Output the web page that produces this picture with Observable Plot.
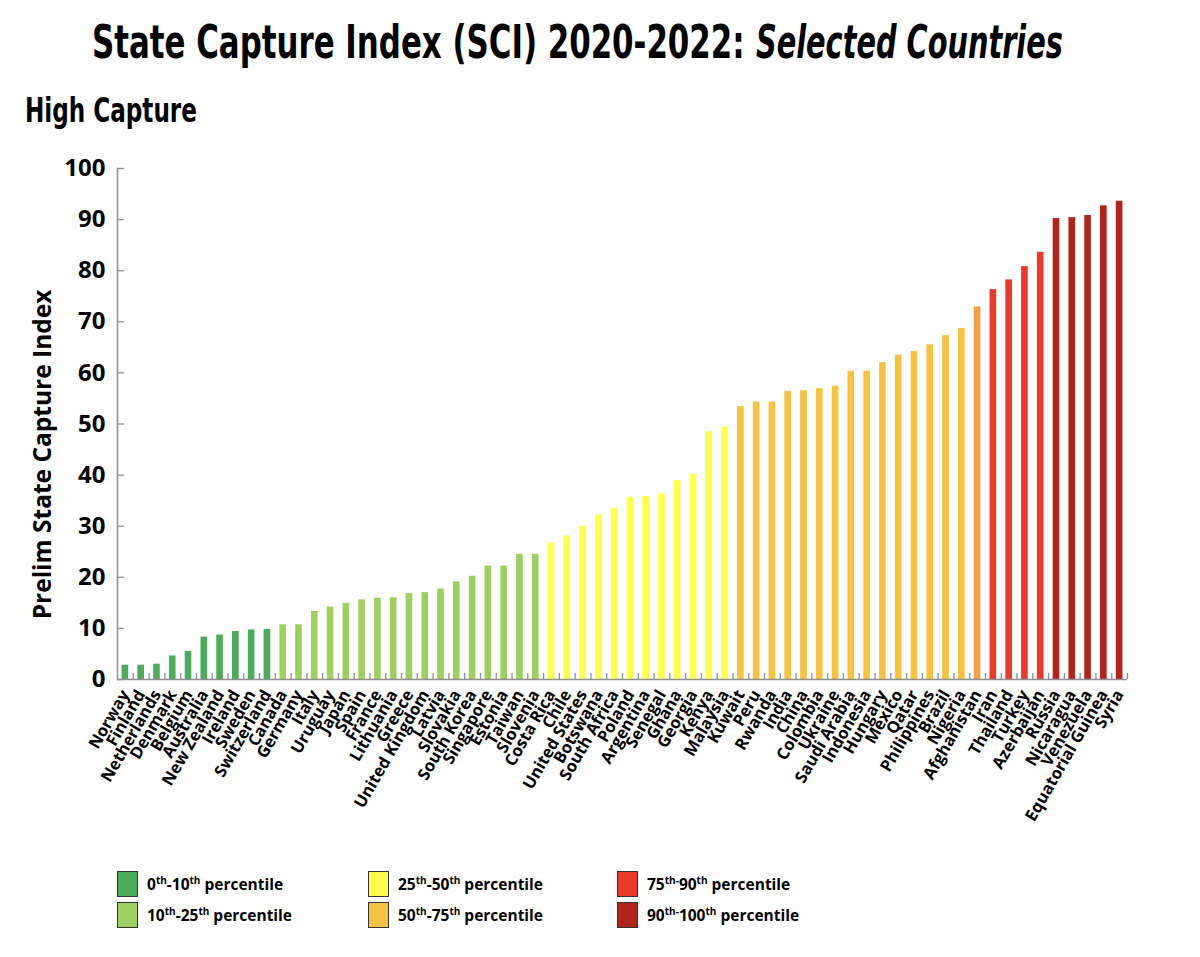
<!DOCTYPE html>
<html>
<head>
<meta charset="utf-8">
<script src="https://cdn.jsdelivr.net/npm/d3@7"></script>
<script src="https://cdn.jsdelivr.net/npm/@observablehq/plot@0.6"></script>
<style>
  html, body { margin: 0; padding: 0; background: #fff; }
  body { width: 1200px; height: 957px; overflow: hidden; font-family: "Open Sans", sans-serif; }
  #head svg, #chart svg { display: block; }
  #legend { position: relative; width: 1200px; height: 98px; }
  .item { position: absolute; display: flex; align-items: center; font-weight: 700; font-size: 15.5px; color: #000; white-space: nowrap; }
  .sw { width: 21px; height: 26px; border: 1.5px solid #333; margin-right: 9px; box-sizing: border-box; }
  sup { font-size: 10px; line-height: 0; vertical-align: 6px; }
</style>
</head>
<body>
<div id="head"></div>
<div id="chart"></div>
<div id="legend"></div>
<script>
const countries = ["Norway","Finland","Netherlands","Denmark","Belgium","Australia","New Zealand","Ireland","Sweden","Switzerland",
  "Canada","Germany","Italy","Uruguay","Japan","Spain","France","Lithuania","Greece","United Kingdom",
  "Latvia","Slovakia","South Korea","Singapore","Estonia","Taiwan","Slovenia","Costa Rica","Chile","United States",
  "Botswana","South Africa","Poland","Argentina","Senegal","Ghana","Georgia","Kenya","Malaysia","Kuwait",
  "Peru","Rwanda","India","China","Colombia","Ukraine","Saudi Arabia","Indonesia","Hungary","Mexico",
  "Qatar","Philippines","Brazil","Nigeria","Afghanistan","Iran","Thailand","Turkey","Azerbaijan","Russia",
  "Nicaragua","Venezuela","Equatorial Guinea","Syria"];
const values = [2.8,2.8,3.0,4.6,5.5,8.3,8.7,9.4,9.7,9.8,
  10.7,10.7,13.3,14.2,14.9,15.6,15.9,16.0,16.8,17.0,
  17.7,19.1,20.2,22.2,22.2,24.5,24.5,26.7,28.1,30.0,
  32.2,33.5,35.6,35.8,36.3,38.9,40.2,48.5,49.4,53.4,
  54.3,54.3,56.4,56.5,56.9,57.4,60.3,60.3,62.0,63.5,
  64.2,65.5,67.3,68.7,72.9,76.3,78.2,80.8,83.6,90.2,
  90.4,90.8,92.7,93.6];
const groupNames = ["0-10","10-25","25-50","50-75","50-75 (Afghanistan)","75-90","90-100"];
const groupColors = ["#4dab5b","#9dcf63","#ffff50","#f5c243","#ef9e4b","#ea3a2b","#b0251b"];
const groupCounts = [10, 17, 12, 15, 1, 4, 5];
const yTicks = [0,10,20,30,40,50,60,70,80,90,100];
const legendItems = [
  {g: 0, html: "0<sup>th</sup>-10<sup>th</sup> percentile"},
  {g: 1, html: "10<sup>th</sup>-25<sup>th</sup> percentile"},
  {g: 2, html: "25<sup>th</sup>-50<sup>th</sup> percentile"},
  {g: 3, html: "50<sup>th</sup>-75<sup>th</sup> percentile"},
  {g: 5, html: "75<sup>th-</sup>90<sup>th</sup> percentile"},
  {g: 6, html: "90<sup>th-</sup>100<sup>th</sup> percentile"}
];

const groups = groupCounts.flatMap((c, i) => Array(c).fill(groupNames[i]));
const data = countries.map((c, i) => ({country: c, value: values[i], group: groups[i]}));

// Header (title + subtitle), fitted to width with a horizontal scale
const head = d3.select("#head").append("svg").attr("width", 1200).attr("height", 140);
const tFont = "'Liberation Sans Narrow','DejaVu Sans Condensed','Open Sans',sans-serif";
function fitted(x, y, size, target, txt, italic) {
  const t = head.append("text").attr("font-family", tFont).attr("font-weight", 700)
    .attr("font-size", size).attr("font-style", italic ? "italic" : "normal").text(txt);
  const w = t.node().getComputedTextLength() || target;
  t.attr("transform", `translate(${x},${y}) scale(${target / w},1)`);
}
fitted(92, 58, 47, 653, "State Capture Index (SCI) 2020-2022:", false);
fitted(756, 58, 47, 307, "Selected Countries", true);
fitted(25, 122, 34, 172, "High Capture", false);

// Chart
const W = 1200, mL = 117, mR = 73, mT = 28, mB = 180, H = 719;
const innerW = W - mL - mR, innerH = H - mT - mB;
const step = innerW / countries.length;

const chart = Plot.plot({
  width: W, height: H,
  marginLeft: mL, marginRight: mR, marginTop: mT, marginBottom: mB,
  style: {fontFamily: "'Open Sans', sans-serif", color: "#000", background: "#fff"},
  x: {domain: countries, paddingInner: 0.58, paddingOuter: 0.29},
  y: {domain: [0, 100]},
  color: {domain: groupNames, range: groupColors},
  marks: [
    Plot.barY(data, {x: "country", y: "value", fill: "group"}),
    Plot.ruleY(yTicks, {stroke: "#8f8f8f", strokeWidth: 1.3, insetRight: innerW - 7}),
    Plot.ruleX(countries, {x: d => d, dx: step / 2, stroke: "#8f8f8f", strokeWidth: 1.3, insetTop: innerH - 6}),
    Plot.ruleY([0], {stroke: "#8f8f8f", strokeWidth: 1.5}),
    Plot.frame({anchor: "left", stroke: "#8f8f8f", strokeWidth: 1.5}),
    Plot.axisY({ticks: yTicks, tickSize: 0, tickPadding: 12, fontSize: 24, fontWeight: "bold", label: null}),
    Plot.axisX({tickRotate: -60, tickSize: 0, tickPadding: 12, fontSize: 16.5, fontWeight: "bold", label: null})
  ]
});
document.getElementById("chart").appendChild(chart);
d3.select(chart).append("text")
  .attr("transform", `translate(51, ${mT + innerH / 2 + 31}) rotate(-90)`)
  .attr("text-anchor", "middle").attr("font-family", "'Open Sans', sans-serif")
  .attr("font-weight", 700).attr("font-size", 24.5).attr("fill", "#000")
  .text("Prelim State Capture Index");

// Legend
const colX = [117, 368, 617];
const rowY = [12, 43];
const legend = d3.select("#legend");
legendItems.forEach((it, i) => {
  const col = Math.floor(i / 2), row = i % 2;
  const div = legend.append("div").attr("class", "item")
    .style("left", colX[col] + "px").style("top", rowY[row] + "px");
  div.append("div").attr("class", "sw").style("background", groupColors[it.g]);
  div.append("span").html(it.html);
});
</script>
</body>
</html>
